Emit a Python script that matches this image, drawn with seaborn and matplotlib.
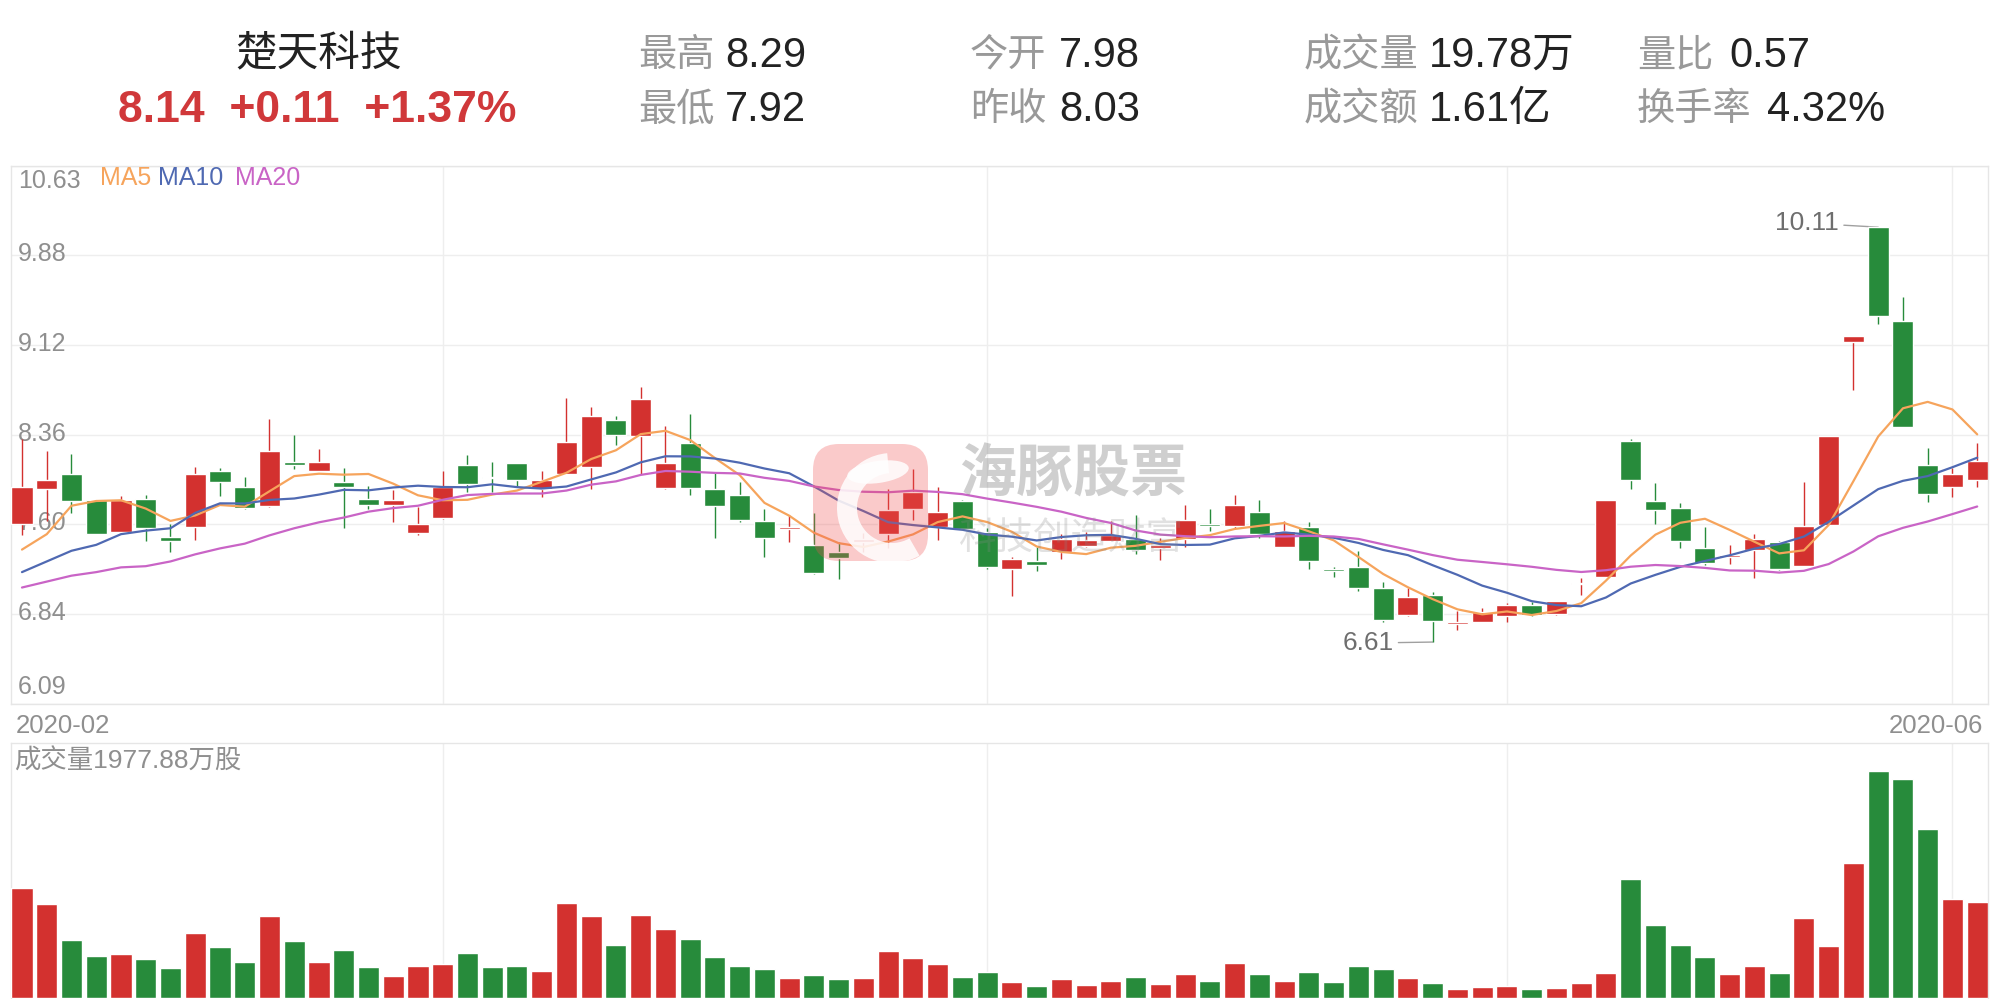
import numpy as np
import pandas as pd
import matplotlib
matplotlib.use("Agg")
import matplotlib.pyplot as plt
import seaborn as sns
from matplotlib.patches import FancyBboxPatch, Wedge, Ellipse
from matplotlib.transforms import IdentityTransform

# daily candles, 2020-02-06 .. 2020-06-02
opens = [7.61, 7.90, 8.03, 7.81, 7.54, 7.82, 7.50, 7.58, 8.05, 7.92,
         7.76, 8.13, 8.05, 7.96, 7.82, 7.77, 7.53, 7.66, 8.10, 8.00,
         8.12, 7.90, 8.03, 8.09, 8.48, 8.35, 7.91, 8.29, 7.90, 7.85,
         7.63, 7.56, 7.43, 7.37, 7.45, 7.52, 7.73, 7.58, 7.80, 7.54,
         7.23, 7.29, 7.37, 7.42, 7.46, 7.48, 7.40, 7.48, 7.61, 7.59,
         7.71, 7.41, 7.58, 7.23, 7.24, 7.07, 6.84, 7.01, 6.76, 6.78,
         6.83, 6.92, 6.85, 7.10, 7.16, 8.31, 7.80, 7.74, 7.40, 7.33,
         7.39, 7.45, 7.25, 7.60, 9.14, 10.11, 9.32, 8.10, 7.92, 7.98]
highs = [8.32, 8.22, 8.20, 7.81, 7.84, 7.85, 7.61, 8.09, 8.08, 8.00,
         8.49, 8.36, 8.24, 8.08, 7.93, 7.89, 7.75, 8.05, 8.19, 8.13,
         8.12, 8.05, 8.67, 8.59, 8.52, 8.76, 8.43, 8.53, 8.04, 7.96,
         7.73, 7.68, 7.70, 7.45, 7.53, 7.90, 8.07, 7.92, 7.81, 7.57,
         7.33, 7.41, 7.52, 7.54, 7.63, 7.68, 7.49, 7.77, 7.73, 7.85,
         7.81, 7.63, 7.62, 7.24, 7.38, 7.12, 7.07, 7.03, 6.87, 6.90,
         6.94, 6.95, 6.96, 7.15, 7.81, 8.32, 7.95, 7.78, 7.58, 7.43,
         7.52, 7.46, 7.96, 8.35, 9.19, 10.11, 9.52, 8.25, 8.08, 8.29]
lows = [7.51, 7.63, 7.70, 7.52, 7.53, 7.46, 7.37, 7.47, 7.84, 7.73,
        7.75, 8.07, 8.05, 7.57, 7.73, 7.62, 7.51, 7.65, 7.88, 7.88,
        7.93, 7.83, 8.03, 7.90, 8.27, 8.03, 7.90, 7.85, 7.49, 7.62,
        7.33, 7.45, 7.18, 7.14, 7.37, 7.40, 7.64, 7.47, 7.56, 7.23,
        7.00, 7.21, 7.31, 7.41, 7.46, 7.35, 7.30, 7.41, 7.55, 7.57,
        7.49, 7.41, 7.23, 7.16, 7.04, 6.78, 6.83, 6.61, 6.71, 6.78,
        6.78, 6.83, 6.84, 7.01, 7.16, 7.90, 7.61, 7.40, 7.26, 7.27,
        7.15, 7.22, 7.25, 7.60, 8.74, 9.29, 8.42, 7.79, 7.83, 7.92]
closes = [7.92, 7.98, 7.80, 7.52, 7.81, 7.57, 7.46, 8.03, 7.96, 7.74,
          8.22, 8.10, 8.13, 7.92, 7.77, 7.81, 7.61, 7.92, 7.94, 7.99,
          7.98, 7.98, 8.30, 8.52, 8.36, 8.66, 8.12, 7.91, 7.76, 7.64,
          7.49, 7.58, 7.19, 7.32, 7.48, 7.72, 7.88, 7.71, 7.56, 7.24,
          7.31, 7.26, 7.48, 7.47, 7.51, 7.39, 7.43, 7.64, 7.59, 7.77,
          7.52, 7.55, 7.29, 7.21, 7.07, 6.80, 6.99, 6.79, 6.78, 6.86,
          6.92, 6.84, 6.96, 7.11, 7.81, 7.98, 7.72, 7.46, 7.28, 7.34,
          7.48, 7.23, 7.59, 8.35, 9.19, 9.36, 8.42, 7.86, 8.03, 8.14]
# volume, 万股
volumes = [2273, 1937, 1195, 865, 907, 804, 618, 1346, 1051, 749,
           1690, 1174, 749, 989, 639, 453, 659, 701, 927, 639,
           659, 563, 1957, 1690, 1092, 1710, 1422, 1216, 845, 659,
           598, 412, 474, 391, 412, 968, 824, 701, 433, 536,
           330, 247, 391, 268, 350, 433, 288, 494, 350, 721,
           494, 350, 536, 330, 659, 598, 412, 309, 185, 227,
           247, 185, 206, 309, 515, 2452, 1504, 1092, 845, 494,
           659, 515, 1648, 1071, 2782, 4677, 4512, 3482, 2040, 1977.88]

# moving averages before enough days are in the window
ma5_head = [7.39, 7.52, 7.76, 7.80]
ma10_head = [7.20, 7.29, 7.38, 7.43, 7.52, 7.55, 7.57, 7.70, 7.78]
ma20_head = [7.07, 7.12, 7.17, 7.20, 7.24, 7.25, 7.29, 7.35, 7.40, 7.44,
             7.51, 7.57, 7.62, 7.66, 7.71, 7.74, 7.76, 7.81, 7.85]

price_labels = ['6.09', '6.84', '7.60', '8.36', '9.12', '9.88', '10.63']
month_start_idx = [17, 39, 60, 78]
date_labels = ['2020-02', '2020-06']

header_rows = [[('最高', '8.29'), ('今开', '7.98'), ('成交量', '19.78万'), ('量比', '0.57')],
               [('最低', '7.92'), ('昨收', '8.03'), ('成交额', '1.61亿'), ('换手率', '4.32%')]]

W, H = 2001, 999
RED = '#d3312f'
GREEN = '#278b3b'
GRAY = '#999999'
GRID = '#eeeeee'

sns.set_style('white')
plt.rcParams['font.family'] = ['Liberation Sans', 'Noto Sans CJK SC']

df = pd.DataFrame({'open': opens, 'high': highs, 'low': lows,
                   'close': closes, 'volume': volumes})
df['idx'] = np.arange(len(df))
df['dir'] = np.where(df['close'] >= df['open'], 'up', 'down')


def moving_avg(n, head):
    m = df['close'].rolling(n).mean()
    m.iloc[:len(head)] = head
    return m


df['ma5'] = moving_avg(5, ma5_head)
df['ma10'] = moving_avg(10, ma10_head)
df['ma20'] = moving_avg(20, ma20_head)


def fx(px):
    return px / W


def fy(py):
    return 1 - py / H


fig = plt.figure(figsize=(W / 100, H / 100), dpi=100)
L, R = 11, 1987.6
ax = fig.add_axes([fx(L), fy(703.7), fx(R) - fx(L), fy(165.5) - fy(703.7)])
axv = fig.add_axes([fx(L), fy(998), fx(R) - fx(L), fy(743) - fy(998)])

XLIM = (-0.444, 79.42)
pmin, pmax = 6.09, 10.63
yt = np.linspace(pmin, pmax, len(price_labels))

# ---- price panel
colors = np.where(df['dir'] == 'up', RED, GREEN)
body_lo = np.minimum(df['open'], df['close'])
body_h = np.maximum(np.abs(df['close'] - df['open']), 0.012)
ax.vlines(df['idx'], df['low'], df['high'], colors=colors, lw=1.0, zorder=3)
ax.bar(df['idx'], body_h, bottom=body_lo, width=0.85, color=colors, zorder=3.5)

sns.lineplot(x=df['idx'], y=df['ma5'], ax=ax, color='#f6a45c', lw=1.6, zorder=4)
sns.lineplot(x=df['idx'], y=df['ma10'], ax=ax, color='#4f69b2', lw=1.6, zorder=4)
sns.lineplot(x=df['idx'], y=df['ma20'], ax=ax, color='#c964c6', lw=1.6, zorder=4)

ax.set_xlim(*XLIM)
ax.set_ylim(pmin, pmax)
ax.set_yticks(yt)
ax.set_xticks(month_start_idx)
ax.grid(True, color=GRID, lw=1.0, zorder=0)
ax.tick_params(length=0, labelleft=False, labelbottom=False)
ax.set_xlabel('')
ax.set_ylabel('')

for i, (v, lab) in enumerate(zip(yt, price_labels)):
    if i == len(yt) - 1:
        va, dy = 'top', -4
    elif i == 0:
        va, dy = 'bottom', 5
    else:
        va, dy = 'center', 1
    ax.annotate(lab, (0, v), xycoords=('axes fraction', 'data'), xytext=(7, dy),
                textcoords='offset pixels', ha='left', va=va, fontsize=18,
                color='#8f8f8f', zorder=1)

# highest / lowest marks
imax = int(df['high'].idxmax())
imin = int(df['low'].idxmin())
for i, val, dy in [(imax, df['high'][imax], 4), (imin, df['low'][imin], -1)]:
    ax.annotate(f'{val:.2f}', (i, val), xytext=(-39, dy), textcoords='offset pixels',
                ha='right', va='center', fontsize=19, color='#6e6e6e', zorder=2,
                arrowprops=dict(arrowstyle='-', color='#a0a0a0', lw=1.0,
                                shrinkA=1, shrinkB=0))

# ---- volume panel
sns.barplot(data=df, x='idx', y='volume', hue='dir', palette={'up': RED, 'down': GREEN},
            dodge=False, width=0.85, saturation=1, errorbar=None, legend=False,
            ax=axv, zorder=3)
axv.set_xlim(*XLIM)
axv.set_ylim(0, 5250)
axv.set_xticks(month_start_idx)
axv.set_yticks([])
axv.grid(True, axis='x', color=GRID, lw=1.0, zorder=0)
axv.tick_params(length=0, labelleft=False, labelbottom=False)
axv.set_xlabel('')
axv.set_ylabel('')

for a in (ax, axv):
    for s in a.spines.values():
        s.set_color('#e6e6e6')
        s.set_linewidth(1.0)
axv.spines['bottom'].set_visible(False)

axv.text(0.0015, 1 - 18 / 255, f'成交量{volumes[-1]:.2f}万股', transform=axv.transAxes,
         ha='left', va='center', fontsize=19, color='#8f8f8f')

# ---- legend, dates
for x0, name, c in [(100, 'MA5', '#f6a45c'), (158, 'MA10', '#4f69b2'), (235, 'MA20', '#c964c6')]:
    fig.text(fx(x0), fy(178), name, color=c, fontsize=18, ha='left', va='center')
fig.text(fx(16), fy(726), date_labels[0], color='#8f8f8f', fontsize=18.5, ha='left', va='center')
fig.text(fx(1983), fy(726), date_labels[1], color='#8f8f8f', fontsize=18.5, ha='right', va='center')

# ---- header
last, prev = closes[-1], closes[-2]
chg = last - prev
fig.text(fx(319), fy(54), '楚天科技', fontsize=30, color='#222222', ha='center', va='center')
fig.text(fx(317), fy(111), f'{last:.2f}  {chg:+.2f}  {chg / prev * 100:+.2f}%', fontsize=32,
         color='#d0383a', ha='center', va='center', weight='bold')
col_x = [(638, 725), (970, 1059), (1304, 1429), (1637, None)]
row_y = [56, 110]
for r, row in enumerate(header_rows):
    for c, (lab, val) in enumerate(row):
        lx, vx = col_x[c]
        if vx is None:
            vx = 1729 if r == 0 else 1767
        fig.text(fx(lx), fy(row_y[r]), lab, fontsize=27.5, color=GRAY, ha='left', va='center')
        fig.text(fx(vx), fy(row_y[r]), val, fontsize=30, color='#222222', ha='left', va='center')

# ---- watermark
box = FancyBboxPatch((813, H - 561), 115, 117, boxstyle='round,pad=0,rounding_size=26',
                     transform=IdentityTransform(), facecolor='#f05050', edgecolor='none',
                     alpha=0.3, zorder=6)
fig.add_artist(box)
ring = Wedge((892, H - 508), 55, 95, 300, width=20, transform=IdentityTransform(),
             facecolor='white', edgecolor='none', alpha=0.85, zorder=7)
head = Ellipse((878, H - 472), 62, 22, angle=8, transform=IdentityTransform(),
               facecolor='white', edgecolor='none', alpha=0.85, zorder=7)
for p in (ring, head):
    fig.add_artist(p)
    p.set_clip_path(box)
fig.text(fx(1073), fy(475), '海豚股票', fontsize=41, weight='bold', color='#888888',
         alpha=0.4, ha='center', va='center', family=['Noto Sans CJK SC'], zorder=7)
fig.text(fx(1071), fy(538), '科技创造财富', fontsize=27, color='#888888',
         alpha=0.25, ha='center', va='center', family=['Noto Sans CJK SC'], zorder=7)

fig.savefig('out.png', dpi=100)
